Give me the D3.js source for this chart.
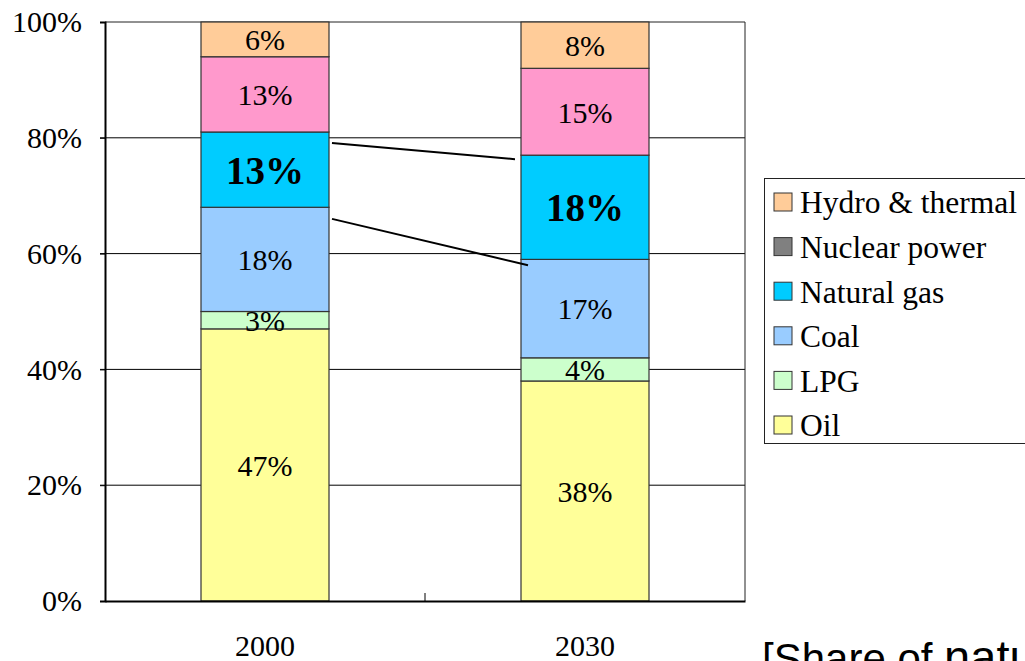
<!DOCTYPE html>
<html>
<head>
<meta charset="utf-8">
<script src="https://cdn.jsdelivr.net/npm/d3@7"></script>
<style>
  body { margin: 0; background: #fff; }
  svg { display: block; }
</style>
</head>
<body>
<script>
// categories and series (stack order bottom -> top)
const years = ["2000", "2030"];
const seriesNames = ["Oil", "LPG", "Coal", "Natural gas", "Nuclear power", "Other", "Hydro & thermal"];
const seriesColors = ["#FFFF99", "#CCFFCC", "#99CCFF", "#00CCFF", "#808080", "#FF99CC", "#FFCC99"];
const values2000 = [47, 3, 18, 13, 0, 13, 6];
const values2030 = [38, 4, 17, 18, 0, 15, 8];
const boldSeries = ["Natural gas"];
const legendNames = ["Hydro & thermal", "Nuclear power", "Natural gas", "Coal", "LPG", "Oil"];
const yTicks = [0, 20, 40, 60, 80, 100];
// hand drawn connector lines: [from %, to %]
const connectors = [[79.1, 76.3], [66.0, 58.0]];

const W = 1025, H = 661;
const svg = d3.select("body").append("svg")
    .attr("width", W)
    .attr("height", H);

const plotL = 105, plotR = 745, plotT = 22, plotB = 601;
const serif = "'Liberation Serif', 'Times New Roman', serif";

const x = d3.scaleBand().domain(years).range([plotL, plotR])
    .paddingInner(0.6).paddingOuter(0.3);
const y = d3.scaleLinear().domain([0, 100]).range([plotB, plotT]);

// build rows for the stack
const rows = years.map(function(yr, i) {
    const vals = i === 0 ? values2000 : values2030;
    const r = { year: yr };
    seriesNames.forEach(function(s, j) { r[s] = vals[j]; });
    return r;
});
const stacked = d3.stack().keys(seriesNames)(rows);

// gridlines
svg.append("g")
    .selectAll("line")
    .data(yTicks.filter(function(d) { return d > 0 && d < 100; }))
    .enter().append("line")
    .attr("x1", plotL - 5).attr("x2", plotR)
    .attr("y1", function(d) { return y(d); })
    .attr("y2", function(d) { return y(d); })
    .attr("stroke", "#000").attr("stroke-width", 1);

// top and right frame
svg.append("path")
    .attr("d", "M" + plotL + "," + y(100) + "H" + plotR + "V" + plotB)
    .attr("fill", "none").attr("stroke", "#222").attr("stroke-width", 1);

// bars
const layer = svg.append("g").selectAll("g")
    .data(stacked)
    .enter().append("g")
    .attr("fill", function(d, i) { return seriesColors[i]; });

layer.selectAll("rect")
    .data(function(d) { return d.filter(function(p) { return p[1] - p[0] > 0; }); })
    .enter().append("rect")
    .attr("x", function(d) { return x(d.data.year); })
    .attr("y", function(d) { return y(d[1]); })
    .attr("width", x.bandwidth())
    .attr("height", function(d) { return y(d[0]) - y(d[1]); })
    .attr("stroke", "#333")
    .attr("stroke-width", 1.2);

// data labels
stacked.forEach(function(s) {
    const bold = boldSeries.indexOf(s.key) >= 0;
    svg.append("g").selectAll("text")
        .data(s.filter(function(d) { return d[1] - d[0] > 0; }))
        .enter().append("text")
        .attr("x", function(d) { return x(d.data.year) + x.bandwidth() / 2; })
        .attr("y", function(d) { return y((d[0] + d[1]) / 2); })
        .attr("dy", "0.36em")
        .attr("text-anchor", "middle")
        .attr("font-family", serif)
        .attr("font-size", bold ? 39 : 30)
        .attr("font-weight", bold ? "bold" : "normal")
        .text(function(d) { return (d[1] - d[0]) + "%"; });
});

// y axis
const yAxis = svg.append("g")
    .attr("transform", "translate(" + plotL + ",0)")
    .call(d3.axisLeft(y).tickValues(yTicks).tickSize(5).tickPadding(18)
        .tickFormat(function(d) { return d + "%"; }));
yAxis.select(".domain").attr("stroke", "#000").attr("stroke-width", 2);
yAxis.selectAll(".tick line").attr("stroke", "#000");
yAxis.selectAll("text")
    .attr("font-family", serif).attr("font-size", 30).attr("fill", "#000");

// x axis
const xAxis = svg.append("g")
    .attr("transform", "translate(0," + plotB + ")")
    .call(d3.axisBottom(x).tickSize(0).tickPadding(34));
xAxis.select(".domain").attr("stroke", "#000").attr("stroke-width", 2);
xAxis.selectAll("text")
    .attr("font-family", serif).attr("font-size", 30).attr("fill", "#000");
// tick between categories
const midX = (x("2000") + x("2030") + x.bandwidth()) / 2;
svg.append("line")
    .attr("x1", midX).attr("x2", midX)
    .attr("y1", plotB).attr("y2", plotB - 8)
    .attr("stroke", "#000").attr("stroke-width", 1);

// connector lines
svg.append("g").selectAll("line")
    .data(connectors)
    .enter().append("line")
    .attr("x1", x("2000") + x.bandwidth() + 3)
    .attr("x2", function(d, i) { return x("2030") - (i === 0 ? 6 : -7); })
    .attr("y1", function(d) { return y(d[0]); })
    .attr("y2", function(d) { return y(d[1]); })
    .attr("stroke", "#000").attr("stroke-width", 2);

// legend
const legend = svg.append("g");
legend.append("rect")
    .attr("x", 764.5).attr("y", 178.5)
    .attr("width", 300).attr("height", 265)
    .attr("fill", "#fff").attr("stroke", "#222").attr("stroke-width", 1);
const items = legend.selectAll("g.item")
    .data(legendNames)
    .enter().append("g")
    .attr("transform", function(d, i) { return "translate(774," + (193 + i * 44.6) + ")"; });
items.append("rect")
    .attr("width", 18).attr("height", 18)
    .attr("fill", function(d) { return seriesColors[seriesNames.indexOf(d)]; })
    .attr("stroke", "#333").attr("stroke-width", 1);
items.append("text")
    .attr("x", 26).attr("y", 9).attr("dy", "0.36em")
    .attr("font-family", serif).attr("font-size", 31.5)
    .text(function(d) { return d; });

// caption (cut off at the bottom of the frame, as in the source)
const cap = svg.append("text")
    .attr("x", 762).attr("y", 673)
    .attr("font-family", "'Liberation Sans', Arial, sans-serif");
cap.append("tspan").attr("font-size", 42).text("[Share of ");
cap.append("tspan").attr("font-size", 47).text("natural gas]");
</script>
</body>
</html>
